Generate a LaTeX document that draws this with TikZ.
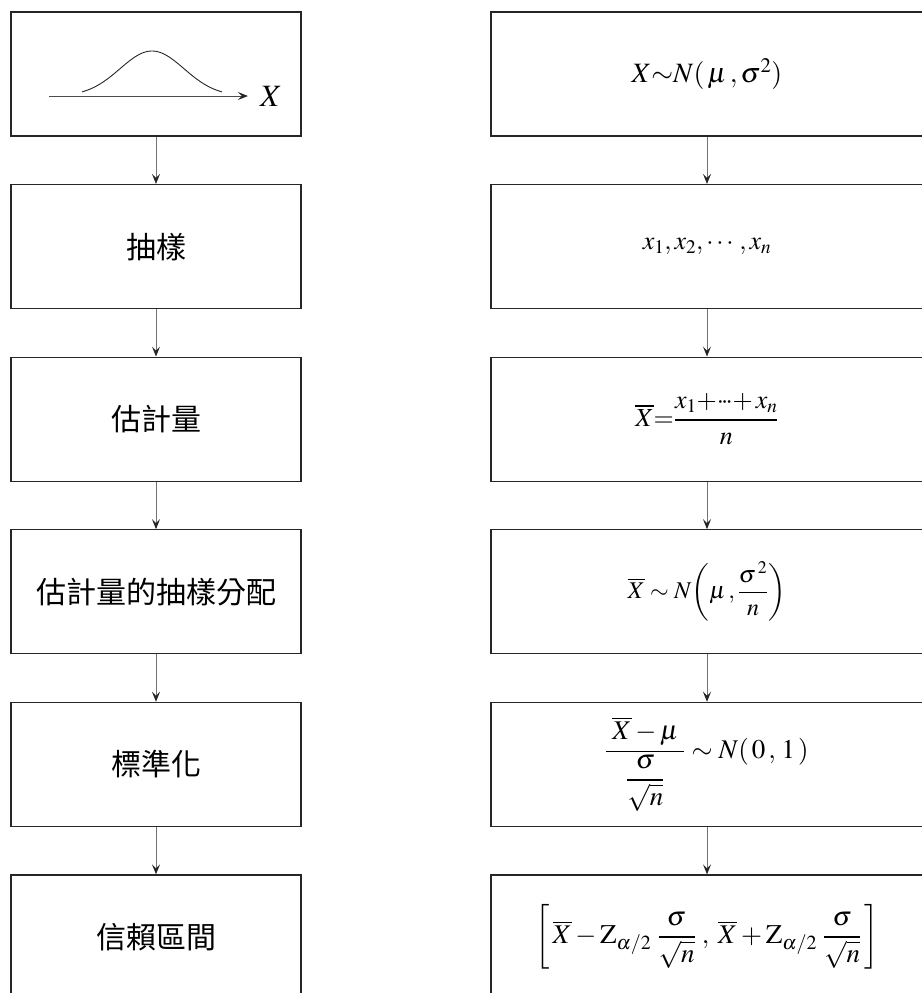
\documentclass[tikz,border=0pt]{standalone}
\usepackage{amsmath}
\usepackage{mathptmx}
\usepackage[no-math]{fontspec}
\newfontfamily\cjk{Noto Sans CJK TC}
\usepackage{tikz}
\usetikzlibrary{positioning,arrows.meta}

\begin{document}
\begin{tikzpicture}[x=1pt,y=-1pt,node distance=47.3pt,
   box/.style={draw=black!85,line width=1.3pt,minimum height=124pt,inner sep=0pt},
   stage/.style={box,minimum width=290pt,font=\cjk\fontsize{30}{36}\selectfont},
   formula/.style={box,minimum width=432pt,font=\fontsize{#1}{#1}\selectfont},
   formula/.default=24,
   flow/.style={draw=black!55,line width=1pt,-{Stealth[length=10pt,width=8pt,inset=4pt,color=black!85]}}]
\useasboundingbox (0,0) rectangle (921,993);
\node[stage] (pop) at (156,74) {};
\node[stage,below=of pop] (samp) {抽樣};
\node[stage,below=of samp] (est) {估計量};
\node[stage,below=of est] (dist) {估計量的抽樣分配};
\node[stage,below=of dist] (std) {標準化};
\node[stage,below=of std] (ci) {信賴區間};
\node[formula=28] (popf) at (707,74) {$X{\sim}N(\,\mu\,,\sigma^2)$};
\node[formula=26,below=of popf] (sampf) {$x_1, x_2, \cdots, x_n$};
\node[formula=26,below=of sampf] (estf) {$\overline{X}{=}\dfrac{x_1{+}{\cdot}\!{\cdot}\!{\cdot}{+}\,x_n}{n}$};
\node[formula=24,below=of estf] (distf) {$\overline{X}\sim N\!\left(\mu\,,\dfrac{\sigma^{\,2}}{n}\right)$};
\node[formula=27,below=of distf] (stdf) {$\dfrac{\;\overline{X}-\mu\;}{\rule{0pt}{20pt}\dfrac{\sigma}{\sqrt{n}}}\sim N(\,0\,,\,1\,)$};
\node[formula=27,below=of stdf] (cif) {$\left[\,\overline{X}-\mathrm{Z}_{\alpha/2}\;\dfrac{\sigma}{\sqrt{n}}\;,\;\overline{X}+\mathrm{Z}_{\alpha/2}\;\dfrac{\sigma}{\sqrt{n}}\,\right]$};
\coordinate (axl) at (49,96);
\node[inner sep=12pt,font=\fontsize{31}{34}\selectfont] (xlab) at (271,96) {$X$};
\draw[line width=0.9pt,black!70,-{Stealth[length=10pt,width=8pt,inset=4pt,color=black!85]}] (axl) -- (xlab.west);
\draw[line width=0.9pt,black!85] plot[domain=-70:70,samples=71,smooth] ({152+\x},{96-45*exp(-(\x*\x)/2048)});
\foreach \x/\y in %
{pop/samp,samp/est,est/dist,dist/std,std/ci,popf/sampf,sampf/estf,estf/distf,distf/stdf,stdf/cif} {
   \draw[flow] (\x) -- (\y);
}
\end{tikzpicture}
\end{document}
